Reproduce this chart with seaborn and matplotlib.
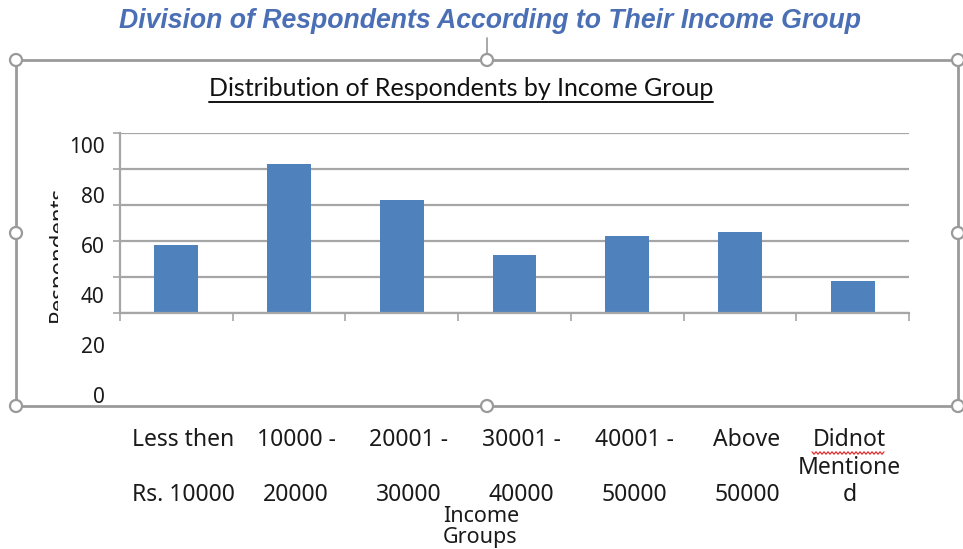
import numpy as np
import pandas as pd
import matplotlib
matplotlib.use("Agg")
import matplotlib.pyplot as plt
import seaborn as sns
from matplotlib.patches import Rectangle, Circle
from matplotlib.lines import Line2D
from matplotlib.transforms import IdentityTransform, ScaledTranslation

# Data
income_groups = [
    "Less then\n\nRs. 10000",
    "10000 -\n\n20000",
    "20001 -\n\n30000",
    "30001 -\n\n40000",
    "40001 -\n\n50000",
    "Above\n\n50000",
    "Didnot\nMentione\nd",
]
respondents = [38, 83, 63, 32, 43, 45, 18]
y_ticks = [0, 20, 40, 60, 80, 100]

page_title = "Division of Respondents According to Their Income Group"
chart_title = "Distribution of Respondents by Income Group"
x_title = "Income\nGroups"
y_title = "Respondents"

df = pd.DataFrame({"group": income_groups, "count": respondents})

W, H = 963, 549
DPI = 100
sns.set_theme(style="white")
plt.rcParams["font.family"] = ["Noto Sans", "DejaVu Sans"]

fig = plt.figure(figsize=(W / DPI, H / DPI), dpi=DPI)
fig.patch.set_facecolor("white")
px = IdentityTransform()


def fx(x):
    return x / W


def fy(y):
    return 1 - y / H


GRID = "#a6a6a6"
FRAME = "#9a9a9a"
BAR = "#4f81bd"
INK = "#1a1a1a"

# Plot area
ax = fig.add_axes([fx(120), fy(313), (909 - 120) / W, (313 - 133) / H])
sns.barplot(data=df, x="group", y="count", color=BAR, width=0.39,
            saturation=1, ax=ax, edgecolor="none")
ax.set_ylim(0, 100)
ax.set_xlim(-0.5, len(income_groups) - 0.5)
ax.set_yticks(y_ticks)
ax.set_yticklabels([])
ax.yaxis.grid(True, color=GRID, linewidth=1.6)
ax.set_axisbelow(True)
for s in ["top", "right"]:
    ax.spines[s].set_visible(False)
for s in ["left", "bottom"]:
    ax.spines[s].set_color(GRID)
    ax.spines[s].set_linewidth(1.6)
ax.tick_params(axis="y", which="major", left=True, length=5, width=1.2,
               color=GRID, direction="out")
ax.set_xticks(np.arange(-0.5, len(income_groups), 1.0), minor=True)
ax.tick_params(axis="x", which="minor", bottom=True, length=6, width=1.2,
               color=GRID, direction="out")
ax.tick_params(axis="x", which="major", length=0, pad=83,
               labelsize=16.5, labelcolor=INK)
# wrapped category labels sit slightly right of the bar centres
label_nudges_px = [7, 7, 7, 7, 7, 7, -3]
for lab, dx in zip(ax.get_xticklabels(), label_nudges_px):
    lab.set_linespacing(1.18)
    lab.set_verticalalignment("top")
    lab.set_transform(lab.get_transform()
                      + ScaledTranslation(dx / DPI, 0, fig.dpi_scale_trans))
ax.set_xlabel("")
ax.set_ylabel("")

# Value labels on a separate vertical scale
lax = fig.add_axes([fx(120), fy(395), 0.0005, (395 - 145) / H])
lax.set_ylim(0, 100)
lax.set_yticks(y_ticks)
lax.set_yticklabels([str(v) for v in y_ticks])
lax.tick_params(axis="y", length=0, pad=11, labelsize=15, labelcolor=INK)
lax.set_xticks([])
for s in lax.spines.values():
    s.set_visible(False)
lax.patch.set_alpha(0)

# Page heading
fig.text(fx(490), fy(21), page_title, ha="center", va="center",
         fontsize=19.2, fontweight="bold", fontstyle="italic",
         color="#4a6fb5", family=["Liberation Sans", "DejaVu Sans"])

# Chart frame with selection handles
fig.add_artist(Line2D([487, 487], [H - 38, H - 54], transform=px,
                      color=FRAME, lw=1.2))
fig.add_artist(Rectangle((16, H - 406), 958 - 16, 406 - 60, transform=px,
                         fill=False, edgecolor=FRAME, lw=2))
for hx, hy in [(16, 60), (487, 60), (958, 60), (16, 233), (958, 233),
               (16, 406), (487, 406), (958, 406)]:
    fig.add_artist(Circle((hx, H - hy), 6, transform=px, facecolor="white",
                          edgecolor=FRAME, lw=1.6, zorder=5))

# Chart title, underlined
t = fig.text(fx(461), fy(89), chart_title, ha="center", va="center",
             fontsize=18, color="#111111", family=["Lato", "DejaVu Sans"])
fig.canvas.draw()
bb = t.get_window_extent(renderer=fig.canvas.get_renderer())
fig.add_artist(Line2D([bb.x0, bb.x1], [H - 102, H - 102], transform=px,
                      color="#111111", lw=1.4))

# Axis titles
fig.text(fx(443), fy(527), x_title, ha="left", va="center", fontsize=15.5,
         fontweight="semibold", color=INK, linespacing=0.95)
yt = fig.text(64, H - 254, y_title, transform=px, ha="center",
              va="baseline", rotation=90, rotation_mode="anchor",
              fontsize=16, fontweight="semibold", color=INK)
# only the upper part of the rotated title shows inside the frame
clip = Rectangle((20, 0), 38, H, transform=px)
yt.set_clip_path(clip)

# Spelling squiggle under "Didnot"
sx = np.arange(812, 885, 2.0)
sy = H - 453 + np.where(np.arange(len(sx)) % 2 == 0, 1.2, -1.2)
fig.add_artist(Line2D(sx, sy, transform=px, color="#e03030", lw=0.9))

fig.savefig("out.png", dpi=DPI)
